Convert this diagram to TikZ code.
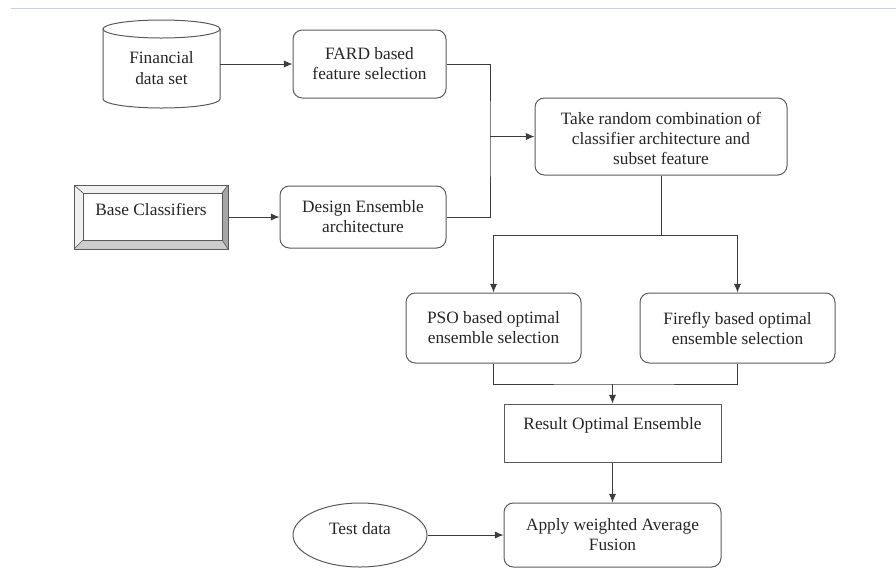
\documentclass[tikz,border=0pt]{standalone}
\usepackage{fontspec}
\setmainfont{Liberation Serif}
\newfontfamily\tnr{Liberation Serif}
\usetikzlibrary{arrows.meta,calc,shapes.geometric}
\definecolor{ln}{RGB}{60,60,60}
\definecolor{bd}{RGB}{90,90,90}
\definecolor{topln}{RGB}{200,208,222}
\tikzset{
  every node/.style={font=\tnr\fontsize{13}{15}\selectfont, text=black!85, align=center},
  rbox/.style={draw=bd, line width=0.75pt, rounded corners=7pt, inner sep=0pt},
  sbox/.style={draw=bd, line width=0.75pt, inner sep=0pt},
  conn/.style={draw=ln, line width=0.75pt},
  arr/.style={conn, -{Latex[length=6.5pt,width=5.5pt]}},
}
\begin{document}
\begin{tikzpicture}[x=0.75pt,y=-0.75pt]
\useasboundingbox (0,0) rectangle (896,569);
% faint top rule
\draw[topln, line width=1.2pt] (11,8.5) -- (896,8.5);

% cylinder
\draw[bd, line width=0.75pt, fill=white] (103,29) -- (103,99) arc (180:0:58.5 and 9) -- (220,29);
\draw[bd, line width=0.75pt] (161.5,29) ellipse (58.5 and 9);
\node[minimum width=117*0.75pt, minimum height=88*0.75pt, inner sep=0pt] (fin) at (161.5,64) {\raisebox{-7.5pt}[0pt][0pt]{\begin{tabular}{@{}c@{}}Financial\\[0.5pt]data set\end{tabular}}};

\node[rbox, minimum width=153*0.75pt, minimum height=68*0.75pt] (fard) at (369.5,64) {FARD based\\feature selection};

% base classifiers (bevel box)
\node[sbox, minimum width=154*0.75pt, minimum height=64*0.75pt] (base) at (151,217) {Base Classifiers\\[-4pt]\mbox{}};
\fill[gray!12] (74,185) -- (228,185) -- (222,193) -- (83,193) -- (83,240) -- (74,249) -- cycle;
\fill[gray!70] (222,193) -- (228,185) -- (228,249) -- (222,240) -- cycle;
\fill[gray!40] (83,240) -- (222,240) -- (228,249) -- (74,249) -- cycle;
\draw[bd, line width=0.6pt] (83,193) rectangle (222,240);
\draw[bd, line width=0.5pt] (74,185) -- (83,193) (228,185) -- (222,193) (228,249) -- (222,240) (74,249) -- (83,240);
\draw[bd, line width=0.75pt] (74,185) rectangle (228,249);

\node[rbox, minimum width=166*0.75pt, minimum height=62*0.75pt] (design) at (363,217) {Design Ensemble\\architecture};

\node[rbox, minimum width=252*0.75pt, minimum height=77*0.75pt] (take) at (661,136.5) {\raisebox{-6pt}[0pt][0pt]{\begin{tabular}{@{}c@{}}Take random combination of\\classifier architecture and\\subset feature\end{tabular}}};

\node[rbox, minimum width=175*0.75pt, minimum height=70*0.75pt] (pso) at (493.5,328) {PSO based optimal\\ensemble selection};
\node[rbox, minimum width=195*0.75pt, minimum height=70*0.75pt] (fire) at (737.5,328) {Firefly based optimal\\ensemble selection};

\node[sbox, minimum width=217*0.75pt, minimum height=58*0.75pt] (result) at (612.5,433) {Result Optimal Ensemble\\\mbox{}};

\node[rbox, minimum width=217*0.75pt, minimum height=64*0.75pt] (apply) at (612.5,535) {Apply weighted Average\\Fusion};

\node[draw=bd, line width=0.75pt, ellipse, minimum width=134*0.75pt, minimum height=64*0.75pt, inner sep=0pt] (test) at (360,535) {Test data\\[-4.5pt]\mbox{}};

% connectors
\coordinate (j) at (490,136.5);
\coordinate (s1) at (661,235);
\coordinate (m) at (612.5,384);

\draw[arr] (fin.east) -- (fard.west);
\draw[arr] (base.east) -- (design.west);
\draw[conn] (fard.east) -| (j) |- (design.east);
\draw[arr] (j) -- (take.west);
\draw[conn] (take.south) -- (s1);
\draw[arr] (s1) -| (pso.north);
\draw[arr] (s1) -| (fire.north);
\draw[conn] (pso.south) |- (m) -| (fire.south);
\draw[arr] (m) -- (result.north);
\draw[arr] (result.south) -- (apply.north);
\draw[arr] (test.east) -- (apply.west);
\end{tikzpicture}
\end{document}
